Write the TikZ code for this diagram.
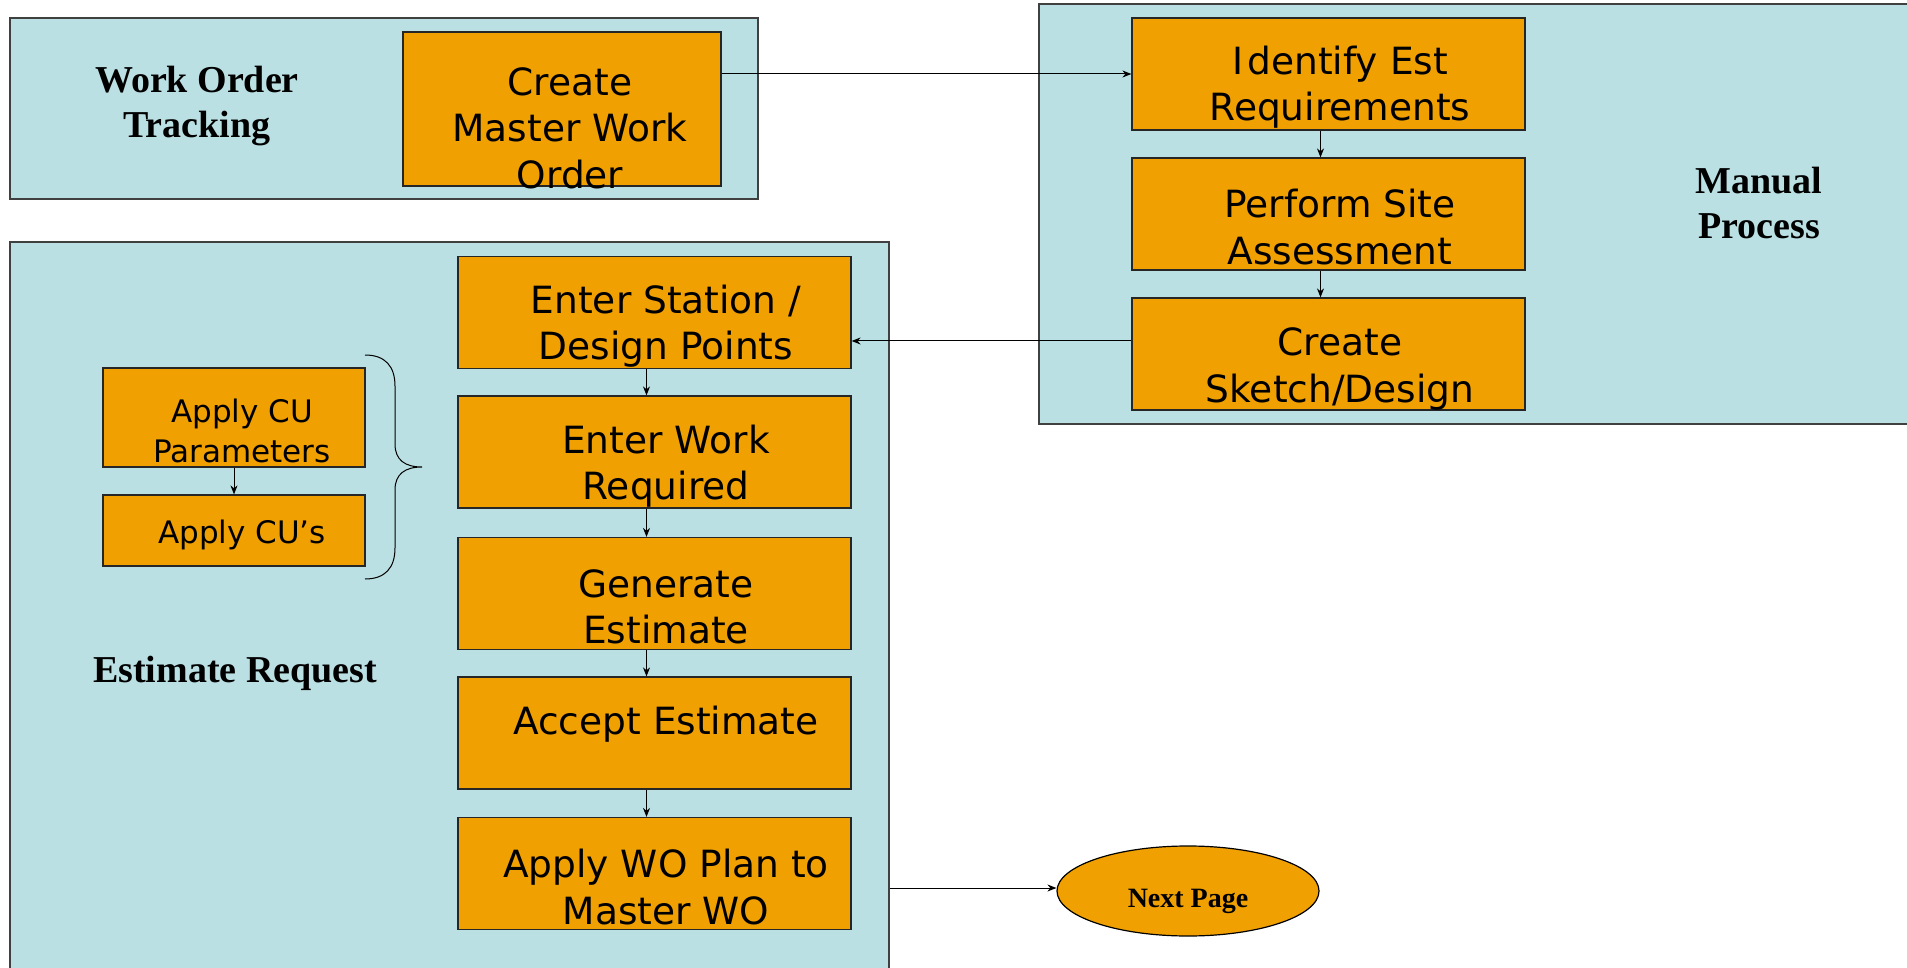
\documentclass[tikz,border=0pt]{standalone}
\usepackage{fontspec}
\setmainfont{Liberation Serif}
\newfontfamily\boxfont{DejaVu Sans}
\usetikzlibrary{arrows.meta,shapes.geometric}
\definecolor{panelblue}{RGB}{186,224,227}
\definecolor{boxorange}{RGB}{240,160,0}
\tikzset{
  panel/.style={draw=black!75,line width=1.2pt,fill=panelblue,rectangle,inner sep=0pt},
  stepbox/.style={draw=black!85,line width=1.2pt,fill=boxorange,rectangle,inner sep=0pt,minimum width=393pt,minimum height=112pt},
  cubox/.style={draw=black!85,line width=1.2pt,fill=boxorange,rectangle,inner sep=0pt,minimum width=262pt},
  boxtext/.style={align=center,inner sep=0pt,font=\boxfont\fontsize{37.5}{46.5}\selectfont},
  cutext/.style={align=center,inner sep=0pt,font=\boxfont\fontsize{31}{40}\selectfont},
  paneltitle/.style={align=center,inner sep=0pt,font=\bfseries\fontsize{38}{45}\selectfont},
  arr/.style={draw=black,line width=1pt,-{Stealth[length=9pt,width=7pt]}},
  conn/.style={draw=black,line width=1pt}
}
\begin{document}
\begin{tikzpicture}[x=1pt,y=-1pt]
\clip (0,0) rectangle (1907,968);
\fill[white] (0,0) rectangle (1907,968);

% panels
\node[panel,minimum width=748pt,minimum height=181pt] (wot) at (384,108.5) {};
\node[panel,minimum width=881pt,minimum height=420pt] (mp) at (1479.5,214) {};
\node[panel,minimum width=879pt,minimum height=743pt] (er) at (449.5,613.5) {};

% panel titles
\node[paneltitle] (wott) at (197,106) {Work Order\\Tracking};
\node[paneltitle] (mpt) at (1759,203) {Manual\\Process};
\node[paneltitle] (ert) at (235,673) {Estimate Request};

% work order tracking
\node[stepbox,minimum width=318pt,minimum height=154pt] (cmwo) at (562,109) {};
\node[boxtext] (cmwot) at (570,128) {Create\\Master Work\\Order};

% manual process
\node[stepbox] (identify) at (1328.5,74) {};
\node[boxtext] (identifyt) at (1340,87) {I\kern0.12em dentify Est\\Requirements};
\node[stepbox] (perform) at (1328.5,214) {};
\node[boxtext] (performt) at (1340,227) {Perform Site\\Assessment};
\node[stepbox] (sketch) at (1328.5,354) {};
\node[boxtext] (sketcht) at (1340,369) {Create\\Sketch/Design};

% estimate request
\node[stepbox] (station) at (654.5,312.5) {};
\node[boxtext] (stationt) at (666,326) {Enter Station /\\Design Points};
\node[stepbox] (work) at (654.5,452) {};
\node[boxtext] (workt) at (666,466) {Enter Work\\Required};
\node[stepbox] (gen) at (654.5,593.5) {};
\node[boxtext] (gent) at (666,607) {Generate\\Estimate};
\node[stepbox] (accept) at (654.5,733) {};
\node[boxtext] (acceptt) at (666,724) {Accept Estimate};
\node[stepbox] (applywo) at (654.5,873.5) {};
\node[boxtext] (applywot) at (666,887) {Apply WO Plan to\\Master WO};

\node[cubox,minimum height=99pt] (cupar) at (234,417.5) {};
\node[cutext] (cupart) at (242,431) {Apply CU\\Parameters};
\node[cubox,minimum height=71pt] (cus) at (234,530.5) {};
\node[cutext] (cust) at (242,535) {Apply CU’s};

% brace
\coordinate (bt) at (365,355);
\coordinate (bb) at (365,579);
\coordinate (btip) at (422,467);
\draw[line width=1pt] (bt) .. controls (385,355) and (395,366) .. (395,386) -- (395,444)
  .. controls (395,460) and (405,467) .. (btip)
  .. controls (405,467) and (395,474) .. (395,490) -- (395,548)
  .. controls (395,568) and (385,579) .. (bb);

% next page
\node[ellipse,draw=black,line width=1.2pt,fill=boxorange,minimum width=262pt,minimum height=90pt,inner sep=0pt] (np) at (1188,891) {};
\node[inner sep=0pt,font=\bfseries\fontsize{28}{32}\selectfont] (npt) at (1188,901) {Next Page};

% connectors
\draw[arr] (identify.west -| cmwo.east) -- (identify.west);
\draw[arr] ([yshift=13pt]sketch.west) coordinate (s1) -- (s1 -| station.east);
\draw[arr] ([xshift=-8pt]identify.south) -- ([xshift=-8pt]perform.north);
\draw[arr] ([xshift=-8pt]perform.south) -- ([xshift=-8pt]sketch.north);
\draw[arr] ([xshift=-8pt]station.south) -- ([xshift=-8pt]work.north);
\draw[arr] ([xshift=-8pt]work.south) -- ([xshift=-8pt]gen.north);
\draw[arr] ([xshift=-8pt]gen.south) -- ([xshift=-8pt]accept.north);
\draw[arr] ([xshift=-8pt]accept.south) -- ([xshift=-8pt]applywo.north);
\draw[arr] (cupar.south) -- (cus.north);
\draw[arr] ([yshift=3pt]np.west -| er.east) -- ([yshift=3pt]np.west);
\end{tikzpicture}
\end{document}
